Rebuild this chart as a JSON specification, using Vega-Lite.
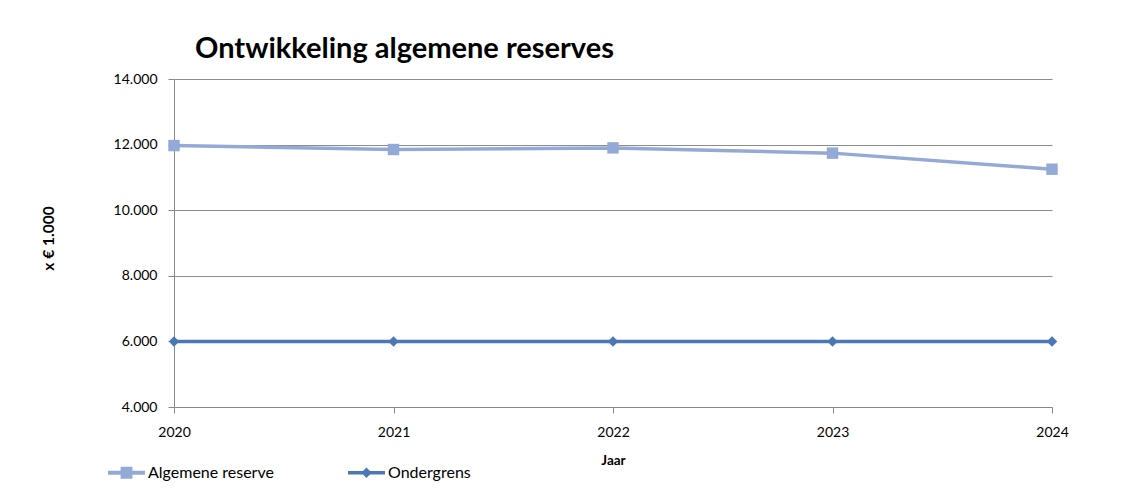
{
  "$schema": "https://vega.github.io/schema/vega-lite/v6.json",
  "width": 878,
  "height": 328,
  "autosize": {"type": "none"},
  "padding": {"left": 174, "top": 79, "right": 83, "bottom": 86},
  "background": "white",
  "title": {
    "text": "Ontwikkeling algemene reserves",
    "anchor": "start",
    "frame": "group",
    "dx": 21,
    "dy": 37,
    "offset": 22,
    "baseline": "alphabetic",
    "font": "Lato",
    "fontSize": 29,
    "fontWeight": "bold",
    "color": "#000000"
  },
  "data": {
    "values": [
      {"jaar": 2020, "reeks": "Algemene reserve", "waarde": 11970},
      {"jaar": 2021, "reeks": "Algemene reserve", "waarde": 11850},
      {"jaar": 2022, "reeks": "Algemene reserve", "waarde": 11900},
      {"jaar": 2023, "reeks": "Algemene reserve", "waarde": 11740},
      {"jaar": 2024, "reeks": "Algemene reserve", "waarde": 11250},
      {"jaar": 2020, "reeks": "Ondergrens", "waarde": 6000},
      {"jaar": 2021, "reeks": "Ondergrens", "waarde": 6000},
      {"jaar": 2022, "reeks": "Ondergrens", "waarde": 6000},
      {"jaar": 2023, "reeks": "Ondergrens", "waarde": 6000},
      {"jaar": 2024, "reeks": "Ondergrens", "waarde": 6000}
    ]
  },
  "encoding": {
    "x": {
      "field": "jaar",
      "type": "quantitative",
      "scale": {"domain": [2020, 2024], "nice": false, "zero": false},
      "axis": {
        "values": [2020, 2021, 2022, 2023, 2024],
        "format": "d",
        "grid": false,
        "title": "Jaar",
        "titleFont": "Lato",
        "titleFontSize": 13.5,
        "titleFontWeight": "bold",
        "titleColor": "#000000",
        "titleX": 439,
        "titleY": 53,
        "titleBaseline": "middle",
        "titleAlign": "center",
        "tickSize": 6,
        "tickColor": "#888888",
        "domainColor": "#888888",
        "labelFont": "Lato",
        "labelFontSize": 14,
        "labelColor": "#000000",
        "labelPadding": 12,
        "labelFlush": false
      }
    },
    "y": {
      "field": "waarde",
      "type": "quantitative",
      "scale": {"domain": [4000, 14000], "nice": false, "zero": false},
      "axis": {
        "values": [4000, 6000, 8000, 10000, 12000, 14000],
        "labelExpr": "replace(format(datum.value, ',.0f'), ',', '.')",
        "grid": true,
        "gridColor": "#8c8c8c",
        "gridWidth": 1,
        "tickSize": 6,
        "tickColor": "#888888",
        "domainColor": "#888888",
        "labelFont": "Lato",
        "labelFontSize": 14,
        "labelColor": "#000000",
        "labelPadding": 11,
        "title": "x € 1.000",
        "titleFont": "Lato",
        "titleFontSize": 15.5,
        "titleFontWeight": "bold",
        "titleColor": "#000000",
        "titleX": -126,
        "titleY": 159,
        "titleAngle": -90,
        "titleAlign": "center",
        "titleBaseline": "middle"
      }
    }
  },
  "layer": [
    {
      "mark": {"type": "line", "strokeWidth": 3.5},
      "encoding": {
        "color": {
          "field": "reeks",
          "type": "nominal",
          "scale": {"domain": ["Algemene reserve", "Ondergrens"], "range": ["#93A9D6", "#4A78B5"]},
          "legend": {
            "title": null,
            "orient": "none",
            "legendX": -66,
            "legendY": 375,
            "direction": "horizontal",
            "symbolSize": 1369,
            "symbolType": "M-1,-0.11H1V0.11H-1Z",
            "labelFont": "Lato",
            "labelFontSize": 16,
            "labelColor": "#000000",
            "labelOffset": 3,
            "columnPadding": 74,
            "labelLimit": 300,
            "encode": {
              "symbols": {
                "update": {
                  "shape": {"signal": "datum.value === 'Algemene reserve' ? 'M-1,-0.11H1V0.11H-1Z M-0.32,-0.32H0.32V0.32H-0.32Z' : 'M-1,-0.1H1V0.1H-1Z M-0.28,0L0,-0.28L0.28,0L0,0.28Z'"},
                  "fill": {"signal": "scale('color', datum.value)"},
                  "stroke": {"value": "transparent"},
                  "strokeWidth": {"value": 0},
                  "opacity": {"value": 1}
                }
              }
            }
          }
        }
      }
    },
    {
      "transform": [{"filter": "datum.reeks === 'Algemene reserve'"}],
      "mark": {"type": "point", "filled": true, "opacity": 1, "shape": "square", "size": 130},
      "encoding": {
        "color": {
          "field": "reeks",
          "type": "nominal",
          "scale": {"domain": ["Algemene reserve", "Ondergrens"], "range": ["#93A9D6", "#4A78B5"]},
          "legend": null
        }
      }
    },
    {
      "transform": [{"filter": "datum.reeks === 'Ondergrens'"}],
      "mark": {"type": "point", "filled": true, "opacity": 1, "shape": "diamond", "size": 110},
      "encoding": {
        "color": {
          "field": "reeks",
          "type": "nominal",
          "scale": {"domain": ["Algemene reserve", "Ondergrens"], "range": ["#93A9D6", "#4A78B5"]},
          "legend": null
        }
      }
    }
  ],
  "config": {
    "view": {"stroke": null}
  }
}
